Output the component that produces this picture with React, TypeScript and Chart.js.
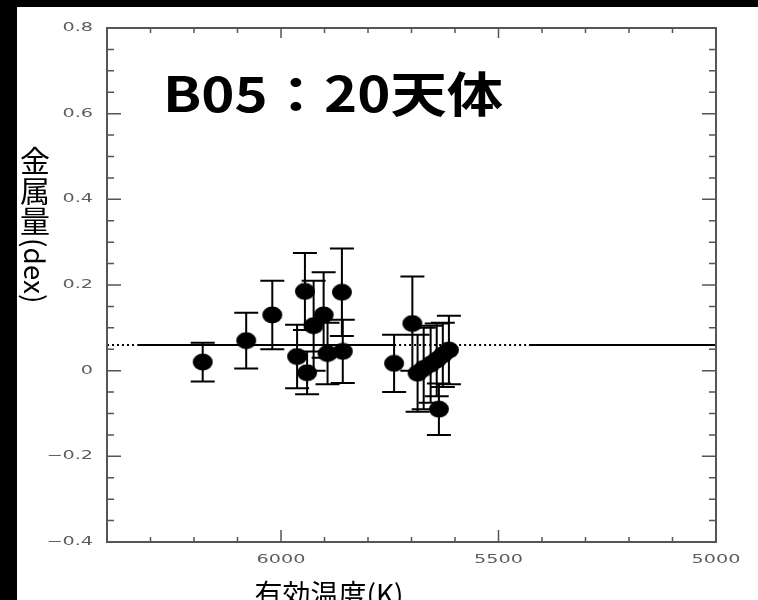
import { useEffect, useRef } from "react";
import { Chart, registerables } from "chart.js";

Chart.register(...registerables);

// Effective temperature (K) of each star
const teffK = [
  6180, 6080, 6020, 5963, 5945, 5940, 5925, 5902, 5893, 5860, 5858,
  5740, 5698, 5686, 5672, 5656, 5642, 5637, 5628, 5614,
];
// Metallicity [Fe/H] (dex)
const feh = [
  0.02, 0.07, 0.13, 0.033, 0.185, -0.005, 0.105, 0.13, 0.04, 0.183, 0.045,
  0.017, 0.11, -0.006, 0.005, 0.015, 0.025, -0.09, 0.037, 0.048,
];
// One-sigma uncertainty of the metallicity
const fehErr = [
  0.045, 0.065, 0.08, 0.074, 0.09, 0.05, 0.105, 0.1, 0.072, 0.102, 0.074,
  0.067, 0.11, 0.09, 0.095, 0.09, 0.085, 0.06, 0.075, 0.08,
];

// Mean metallicity line: solid inside the sampled range, dotted outside
const meanFeh = 0.06;
const meanSolidRanges = [
  [6330, 5740],
  [5430, 5000],
];
const meanDottedRanges = [
  [6400, 6330],
  [5740, 5430],
];

const xMajorTicks = [6000, 5500, 5000];
const xTickLabels = ["6000", "5500", "5000"];
const yMajorTicks = [-0.4, -0.2, 0, 0.2, 0.4, 0.6, 0.8];
const yTickLabels = ["\u22120.4", "\u22120.2", "0", "0.2", "0.4", "0.6", "0.8"];
const xMinorStep = 100;
const yMinorStep = 0.05;

const titleText = "B05\uFF1A20天体";
const yTitleCjk = ["金", "属", "量"];
const yTitleLatin = "(dex)";
const xTitle = "有効温度(K)";

const AXIS_COLOR = "#555";
const LABEL_COLOR = "#5e5e5e";

function makeMarker(): HTMLCanvasElement {
  const c = document.createElement("canvas");
  c.width = 22;
  c.height = 18;
  const g = c.getContext("2d")!;
  g.fillStyle = "#000";
  g.beginPath();
  g.ellipse(11, 9, 10, 8.5, 0, 0, Math.PI * 2);
  g.fill();
  return c;
}

function stretchedText(
  ctx: CanvasRenderingContext2D,
  text: string,
  x: number,
  y: number,
  sx: number,
  align: CanvasTextAlign
) {
  ctx.save();
  ctx.translate(x, y);
  ctx.scale(sx, 1);
  ctx.textAlign = align;
  ctx.fillText(text, 0, 0);
  ctx.restore();
}

const backgroundPlugin = {
  id: "pageBackground",
  beforeDraw(chart: Chart) {
    const { ctx, width, height } = chart;
    ctx.save();
    ctx.fillStyle = "#fff";
    ctx.fillRect(0, 0, width, height);
    ctx.fillStyle = "#000";
    ctx.fillRect(0, 0, width, 7);
    ctx.fillRect(0, 0, 17, height);
    ctx.restore();
  },
};

const errorBarPlugin = {
  id: "errorBars",
  afterDatasetsDraw(chart: Chart) {
    const { ctx } = chart;
    const xs = chart.scales.x;
    const ys = chart.scales.y;
    ctx.save();
    ctx.strokeStyle = "#000";
    ctx.lineWidth = 2;
    const cap = 12;
    for (let i = 0; i < teffK.length; i++) {
      const px = xs.getPixelForValue(teffK[i]);
      const top = ys.getPixelForValue(feh[i] + fehErr[i]);
      const bot = ys.getPixelForValue(feh[i] - fehErr[i]);
      ctx.beginPath();
      ctx.moveTo(px, top);
      ctx.lineTo(px, bot);
      ctx.moveTo(px - cap, top);
      ctx.lineTo(px + cap, top);
      ctx.moveTo(px - cap, bot);
      ctx.lineTo(px + cap, bot);
      ctx.stroke();
    }
    ctx.restore();
  },
};

const framePlugin = {
  id: "frameAndText",
  afterDraw(chart: Chart) {
    const { ctx, chartArea } = chart;
    const { left, right, top, bottom } = chartArea;
    const xs = chart.scales.x;
    const ys = chart.scales.y;
    ctx.save();

    // frame
    ctx.strokeStyle = AXIS_COLOR;
    ctx.lineWidth = 2;
    ctx.strokeRect(left, top, right - left, bottom - top);

    // inward ticks
    ctx.lineWidth = 1.5;
    ctx.beginPath();
    const xMin = Math.min(xs.min, xs.max);
    const xMax = Math.max(xs.min, xs.max);
    for (let v = xMin; v <= xMax + 1e-6; v += xMinorStep) {
      const major = xMajorTicks.includes(v);
      const len = major ? 12 : 5;
      const px = xs.getPixelForValue(v);
      ctx.moveTo(px, bottom);
      ctx.lineTo(px, bottom - len);
      ctx.moveTo(px, top);
      ctx.lineTo(px, top + (major ? 10 : 5));
    }
    for (let k = 0; ; k++) {
      const v = ys.min + k * yMinorStep;
      if (v > ys.max + 1e-9) break;
      const major = yMajorTicks.some((t) => Math.abs(t - v) < 1e-6);
      const len = major ? 14 : 7;
      const py = ys.getPixelForValue(v);
      ctx.moveTo(left, py);
      ctx.lineTo(left + len, py);
      ctx.moveTo(right, py);
      ctx.lineTo(right - len, py);
    }
    ctx.stroke();

    // tick labels
    ctx.fillStyle = LABEL_COLOR;
    ctx.font = '12px "DejaVu Sans"';
    ctx.textBaseline = "middle";
    yMajorTicks.forEach((v, i) => {
      stretchedText(ctx, yTickLabels[i], left - 14, ys.getPixelForValue(v), 1.6, "right");
    });
    xMajorTicks.forEach((v, i) => {
      stretchedText(ctx, xTickLabels[i], xs.getPixelForValue(v), bottom + 18, 1.6, "center");
    });

    // big title inside the plot
    ctx.fillStyle = "#000";
    ctx.font = 'bold 48px "Noto Sans CJK JP"';
    ctx.textBaseline = "alphabetic";
    const w = ctx.measureText(titleText).width;
    stretchedText(ctx, titleText, 163, 112, 340 / w, "left");

    // y axis title, written vertically
    ctx.font = '30px "Noto Sans CJK JP"';
    ctx.textAlign = "center";
    ctx.textBaseline = "top";
    let y = 146;
    for (const ch of yTitleCjk) {
      ctx.fillText(ch, 35, y);
      y += 30;
    }
    ctx.save();
    ctx.translate(35, y + 2);
    ctx.rotate(Math.PI / 2);
    ctx.textAlign = "left";
    ctx.textBaseline = "middle";
    ctx.font = '28px "Noto Sans CJK JP"';
    ctx.fillText(yTitleLatin, 0, 0);
    ctx.restore();

    // x axis title
    ctx.textAlign = "center";
    ctx.textBaseline = "middle";
    ctx.font = '28px "Noto Sans CJK JP"';
    ctx.fillText(xTitle, 329, 594);

    ctx.restore();
  },
};

export default function App() {
  const canvasRef = useRef<HTMLCanvasElement | null>(null);

  useEffect(() => {
    document.body.style.margin = "0";
    const canvas = canvasRef.current;
    if (!canvas) return;

    const lineSets = [
      ...meanSolidRanges.map((r) => ({
        data: r.map((x) => ({ x, y: meanFeh })),
        showLine: true,
        borderColor: "#000",
        borderWidth: 2,
        pointRadius: 0,
        order: 2,
      })),
      ...meanDottedRanges.map((r) => ({
        data: r.map((x) => ({ x, y: meanFeh })),
        showLine: true,
        borderColor: "#000",
        borderWidth: 2,
        borderDash: [2, 3],
        pointRadius: 0,
        order: 2,
      })),
    ];

    const chart = new Chart(canvas, {
      type: "scatter",
      data: {
        datasets: [
          {
            data: teffK.map((t, i) => ({ x: t, y: feh[i] })),
            pointStyle: makeMarker(),
            pointRadius: 10,
            backgroundColor: "#000",
            borderColor: "#000",
            order: 0,
          },
          ...lineSets,
        ] as any,
      },
      options: {
        animation: false,
        responsive: false,
        layout: { padding: { top: 28, right: 42, left: 0, bottom: 0 } },
        plugins: {
          legend: { display: false },
          tooltip: { enabled: false },
        },
        scales: {
          x: {
            type: "linear",
            min: 5000,
            max: 6400,
            reverse: true,
            grid: { display: false, drawTicks: false },
            border: { display: false },
            ticks: { display: false },
            afterFit: (s: any) => {
              s.height = 58;
            },
          },
          y: {
            type: "linear",
            min: -0.4,
            max: 0.8,
            grid: { display: false, drawTicks: false },
            border: { display: false },
            ticks: { display: false },
            afterFit: (s: any) => {
              s.width = 107;
            },
          },
        },
      },
      plugins: [backgroundPlugin, errorBarPlugin, framePlugin],
    });

    return () => chart.destroy();
  }, []);

  return (
    <div style={{ width: 758, height: 600 }}>
      <canvas ref={canvasRef} width={758} height={600} style={{ display: "block" }} />
    </div>
  );
}
